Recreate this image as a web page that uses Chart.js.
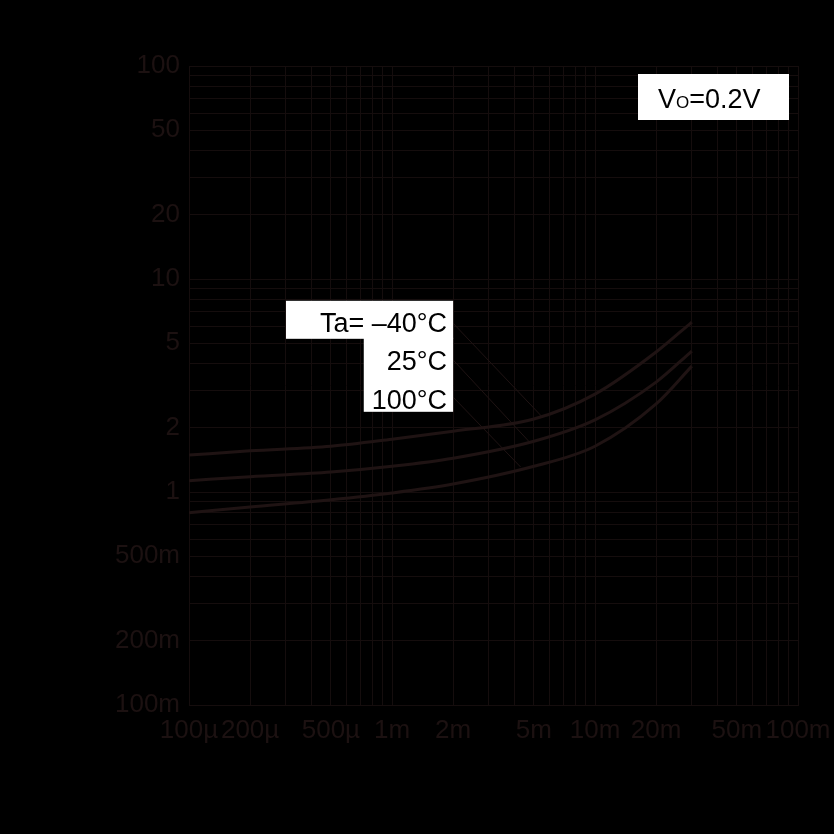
<!DOCTYPE html>
<html lang="en">
<head>
<meta charset="UTF-8">
<title>Output vs current</title>
<script src="https://cdn.jsdelivr.net/npm/chart.js"></script>
<style>
  body { margin: 0; background: #000; }
  #wrap { width: 834px; height: 834px; position: relative; }
</style>
</head>
<body>
<div id="wrap"><canvas id="chart"></canvas></div>
<script>
// curve samples (x in A, y in V)
const currentPoints = [1e-4, 2e-4, 5e-4, 1e-3, 2e-3, 5e-3, 1e-2, 2e-2, 3e-2];
const valuesMinus40 = [1.49, 1.56, 1.64, 1.77, 1.93, 2.20, 2.88, 4.54, 6.28];
const values25      = [1.13, 1.18, 1.24, 1.32, 1.44, 1.73, 2.18, 3.28, 4.59];
const values100     = [0.80, 0.85, 0.92, 0.99, 1.09, 1.32, 1.64, 2.59, 3.90];

const xTickValues = [1e-4, 2e-4, 5e-4, 1e-3, 2e-3, 5e-3, 1e-2, 2e-2, 5e-2, 1e-1];
const xTickLabels = ['100µ', '200µ', '500µ', '1m', '2m', '5m', '10m', '20m', '50m', '100m'];
const yTickValues = [0.1, 0.2, 0.5, 1, 2, 5, 10, 20, 50, 100];
const yTickLabels = ['100m', '200m', '500m', '1', '2', '5', '10', '20', '50', '100'];

const tempLabels = ['Ta= \u201340°C', '25°C', '100°C'];
// leader lines from the labels to the curves
const leaderStart = [[2e-3, 6.2], [2e-3, 4.17], [2e-3, 2.79]];
const leaderEnd   = [[5.5e-3, 2.25], [4.8e-3, 1.70], [4.3e-3, 1.31]];

const textColor = '#1c1111';
const gridColor = '#150d0d';
const curveColor = '#1f1313';
const fontFamily = '"Liberation Sans", Arial, sans-serif';

function decadeGrid(min, max) {
    const out = [];
    for (let d = min; d < max * 1.0001; d *= 10) {
        for (let k = 1; k <= 9; k++) {
            const v = d * k;
            if (v <= max * 1.0001) out.push(v);
        }
    }
    return out;
}

function labelFor(values, labels) {
    return (value) => {
        const i = values.findIndex(t => Math.abs(t - value) / t < 1e-6);
        return i >= 0 ? labels[i] : '';
    };
}

function curve(ys) {
    return {
        data: currentPoints.map((x, i) => ({ x: x, y: ys[i] })),
        borderColor: curveColor,
        borderWidth: 3,
        pointRadius: 0,
        cubicInterpolationMode: 'monotone',
        fill: false
    };
}

const datasets = [curve(valuesMinus40), curve(values25), curve(values100)];
leaderStart.forEach((s, i) => {
    datasets.push({
        data: [{ x: s[0], y: s[1] }, { x: leaderEnd[i][0], y: leaderEnd[i][1] }],
        borderColor: curveColor,
        borderWidth: 1,
        pointRadius: 0,
        fill: false
    });
});

const labelPlugin = {
    id: 'labelBoxes',
    afterDraw(chart) {
        const ctx = chart.ctx;
        const xs = chart.scales.x, ys = chart.scales.y;
        const area = chart.chartArea;
        ctx.save();

        // temperature labels
        const right = xs.getPixelForValue(leaderStart[0][0]);
        const top = ys.getPixelForValue(7.9);
        const rowH = 37;
        ctx.font = '27px ' + fontFamily;
        const w0 = ctx.measureText(tempLabels[0]).width;
        const w1 = Math.max(ctx.measureText(tempLabels[1]).width, ctx.measureText(tempLabels[2]).width);
        ctx.fillStyle = '#fff';
        ctx.fillRect(right - w0 - 40, top, w0 + 40, rowH + 1);
        ctx.fillRect(right - w1 - 14, top + rowH, w1 + 14, rowH * 2);
        ctx.fillStyle = '#000';
        ctx.textAlign = 'right';
        ctx.textBaseline = 'alphabetic';
        tempLabels.forEach((t, i) => {
            ctx.fillText(t, right - 6, top + 31 + i * 38.5);
        });

        // Vo box
        const bw = 151, bh = 46;
        const bx = area.right - 9 - bw, by = area.top + 8;
        ctx.fillStyle = '#fff';
        ctx.fillRect(bx, by, bw, bh);
        ctx.fillStyle = '#000';
        ctx.textAlign = 'left';
        let tx = bx + 20;
        const base = by + 34;
        ctx.font = '27px ' + fontFamily;
        ctx.fillText('V', tx, base);
        tx += ctx.measureText('V').width;
        ctx.font = '17px ' + fontFamily;
        ctx.fillText('O', tx, base);
        tx += ctx.measureText('O').width;
        ctx.font = '27px ' + fontFamily;
        ctx.fillText('=0.2V', tx, base);
        ctx.restore();
    }
};

new Chart(document.getElementById('chart'), {
    type: 'line',
    data: { datasets: datasets },
    plugins: [labelPlugin],
    options: {
        responsive: true,
        maintainAspectRatio: false,
        animation: false,
        layout: { padding: { top: 66, right: 36, bottom: 0, left: 0 } },
        plugins: { legend: { display: false }, tooltip: { enabled: false } },
        scales: {
            x: {
                type: 'logarithmic',
                min: 1e-4,
                max: 1e-1,
                afterBuildTicks: (scale) => { scale.ticks = decadeGrid(1e-4, 1e-1).map(v => ({ value: v })); },
                afterFit: (scale) => {
                    scale.height = 129;
                    scale.paddingLeft = 0;
                    scale.paddingRight = 0;
                },
                grid: { color: gridColor, lineWidth: 1, drawTicks: false },
                border: { color: gridColor },
                ticks: {
                    autoSkip: false,
                    maxRotation: 0,
                    padding: 10,
                    color: textColor,
                    font: { family: fontFamily, size: 26 },
                    callback: labelFor(xTickValues, xTickLabels)
                }
            },
            y: {
                type: 'logarithmic',
                min: 0.1,
                max: 100,
                afterBuildTicks: (scale) => { scale.ticks = decadeGrid(0.1, 100).map(v => ({ value: v })); },
                afterFit: (scale) => {
                    scale.width = 189;
                    scale.paddingTop = 0;
                    scale.paddingBottom = 0;
                },
                grid: { color: gridColor, lineWidth: 1, drawTicks: false },
                border: { color: gridColor },
                ticks: {
                    autoSkip: false,
                    padding: 9,
                    color: textColor,
                    font: { family: fontFamily, size: 26 },
                    callback: labelFor(yTickValues, yTickLabels)
                }
            }
        }
    }
});
</script>
</body>
</html>
